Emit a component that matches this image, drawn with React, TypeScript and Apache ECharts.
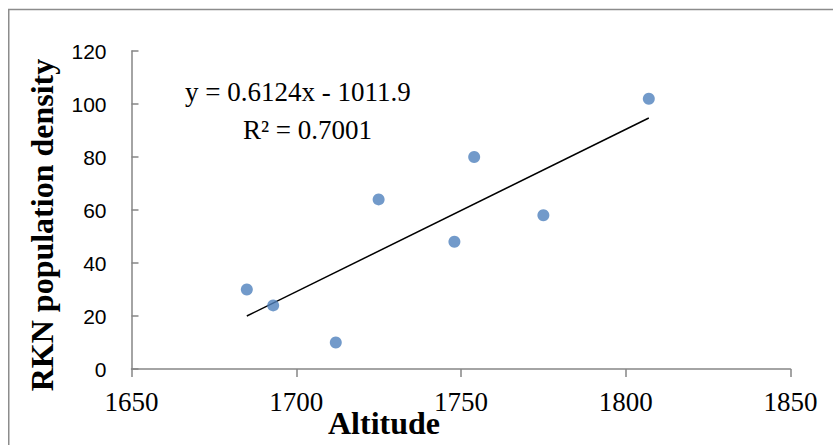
import React, { useEffect, useRef } from "react";
import * as echarts from "echarts";

const altitude = [1685, 1693, 1712, 1725, 1748, 1754, 1775, 1807];
const density = [30, 24, 10, 64, 48, 80, 58, 102];
const slope = 0.6124;
const intercept = -1011.9;
const rSquared = "0.7001";
const xTicks = { min: 1650, max: 1850, interval: 50 };
const yTicks = { min: 0, max: 120, interval: 20 };

export default function App() {
  const ref = useRef<HTMLDivElement>(null);
  useEffect(() => {
    if (!ref.current) return;
    const chart = echarts.init(ref.current, null, { renderer: "svg" });
    const xMin = Math.min(...altitude);
    const xMax = Math.max(...altitude);
    const trend = [
      [xMin, slope * xMin + intercept],
      [xMax, slope * xMax + intercept],
    ];
    const axisColor = "#868686";
    chart.setOption({
      animation: false,
      grid: { left: 123.5, top: 43, right: 42.5, bottom: 76 },
      xAxis: {
        type: "value",
        min: xTicks.min,
        max: xTicks.max,
        interval: xTicks.interval,
        splitLine: { show: false },
        axisLine: { show: true, lineStyle: { color: axisColor, width: 1.5 } },
        axisTick: { show: true, length: 8, lineStyle: { color: axisColor, width: 1.5 } },
        axisLabel: {
          color: "#000",
          fontFamily: "Liberation Serif",
          fontSize: 27,
          margin: 19,
          formatter: (v: number) => String(v),
        },
      },
      yAxis: {
        type: "value",
        min: yTicks.min,
        max: yTicks.max,
        interval: yTicks.interval,
        splitLine: { show: false },
        axisLine: { show: true, lineStyle: { color: axisColor, width: 1.5 } },
        axisTick: { show: true, inside: true, length: 7, lineStyle: { color: axisColor, width: 1.5 } },
        axisLabel: {
          color: "#000",
          fontFamily: "Liberation Sans",
          fontSize: 21,
          margin: 25,
          formatter: (v: number) => String(v),
        },
      },
      series: [
        {
          type: "scatter",
          data: altitude.map((a, i) => [a, density[i]]),
          symbolSize: 12,
          itemStyle: { color: "#4F81BD" },
          z: 3,
        },
        {
          type: "line",
          data: trend,
          showSymbol: false,
          symbol: "none",
          lineStyle: { color: "#000", width: 1.5 },
          z: 2,
        },
      ],
      graphic: [
        {
          type: "line",
          shape: { x1: 0, y1: 1.5, x2: 825, y2: 1.5 },
          style: { stroke: "#8c8c8c", lineWidth: 1.5 },
        },
        {
          type: "line",
          shape: { x1: 0.75, y1: 1.5, x2: 0.75, y2: 437 },
          style: { stroke: "#8c8c8c", lineWidth: 1.5 },
        },
        {
          type: "text",
          x: 177,
          y: 84,
          style: {
            text: `y = ${slope}x - ${Math.abs(intercept)}`,
            fontFamily: "Liberation Serif",
            fontSize: 27,
            fill: "#000",
            verticalAlign: "middle",
            align: "left",
          },
        },
        {
          type: "text",
          x: 235,
          y: 122,
          style: {
            text: `R² = ${rSquared}`,
            fontFamily: "Liberation Serif",
            fontSize: 27,
            fill: "#000",
            verticalAlign: "middle",
            align: "left",
          },
        },
        {
          type: "text",
          x: 34,
          y: 217,
          rotation: Math.PI / 2,
          style: {
            text: "RKN population density",
            fontFamily: "Liberation Serif",
            fontWeight: "bold",
            fontSize: 32,
            fill: "#000",
            verticalAlign: "middle",
            align: "center",
          },
        },
        {
          type: "text",
          x: 376,
          y: 415,
          style: {
            text: "Altitude",
            fontFamily: "Liberation Serif",
            fontWeight: "bold",
            fontSize: 32,
            fill: "#000",
            verticalAlign: "middle",
            align: "center",
          },
        },
      ],
    });
    return () => chart.dispose();
  }, []);
  return (
    <div
      ref={ref}
      style={{ position: "absolute", left: 8, top: 8, width: 825, height: 437 }}
    />
  );
}
